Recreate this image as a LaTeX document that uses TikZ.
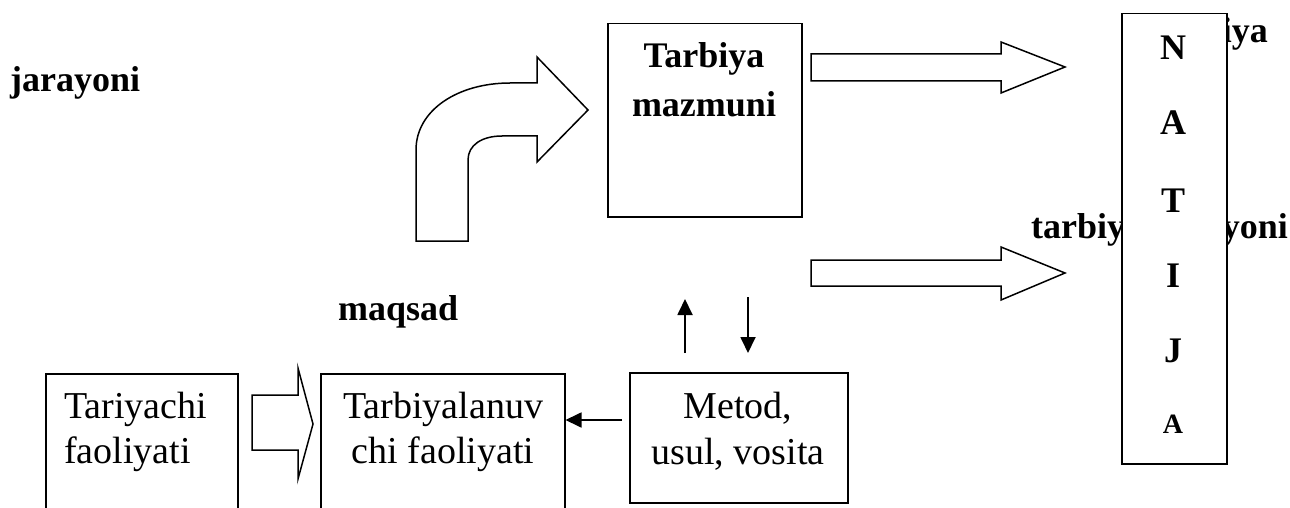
\documentclass[tikz,border=0pt]{standalone}
\usepackage{fontspec}
\setmainfont{Liberation Serif}
\usetikzlibrary{arrows.meta}
\begin{document}
\begin{tikzpicture}[x=1pt,y=-1pt,
  box/.style={draw,line width=1.5pt,fill=white,inner sep=0pt},
  txt/.style={font=\fontsize{38}{38}\selectfont,inner sep=0pt,anchor=base},
  btxt/.style={inner sep=0pt,anchor=base,font=\fontsize{36}{36}\selectfont\bfseries},
  stxt/.style={inner sep=0pt,anchor=base,font=\fontsize{28}{28}\selectfont\bfseries},
  hollow/.style={draw,line width=1.5pt,fill=white,line join=miter},
  thin/.style={line width=1.8pt,-{Triangle[length=16pt,width=15pt]}}]
\clip (0,0) rectangle (1290,508);
\fill[white] (0,0) rectangle (1290,508);

% labels partly hidden behind the NATIJA box
\node[btxt,anchor=base east] (top) at (1268,43) {iya};
\node[btxt,anchor=base west] (tj1) at (1031,238) {tarbiya};
\node[btxt,anchor=base east] (tj2) at (1288,238) {yoni};

% free labels
\node[btxt,anchor=base west] (jar) at (10,92) {jarayoni};
\node[btxt,anchor=base west] (maq) at (338,320) {maqsad};

% boxes
\node[box,anchor=north west,minimum width=194pt,minimum height=193pt] (maz) at (607,23) {};
\node[box,anchor=north west,minimum width=105pt,minimum height=450pt] (nat) at (1121,13) {};
\node[box,anchor=north west,minimum width=192pt,minimum height=160pt] (tar) at (45,373) {};
\node[box,anchor=north west,minimum width=244pt,minimum height=160pt] (tbl) at (320,373) {};
\node[box,anchor=north west,minimum width=218pt,minimum height=130pt] (met) at (629,372) {};

% box texts
\node[btxt] (maz1) at (704,68) {Tarbiya};
\node[btxt] (maz2) at (704,117) {mazmuni};
\node[txt,anchor=base west] (tar1) at (64,418) {Tariyachi};
\node[txt,anchor=base west] (tar2) at (64,463) {faoliyati};
\node[txt] (tbl1) at (443,418) {Tarbiyalanuv};
\node[txt] (tbl2) at (443,463) {chi faoliyati};
\node[txt] (met1) at (738,418) {Metod,};
\node[txt] (met2) at (738,464) {usul, vosita};
\node[btxt] (n1) at (1173,60) {N};
\node[btxt] (n2) at (1173,135) {A};
\node[btxt] (n3) at (1173,212) {T};
\node[btxt] (n4) at (1173,287) {I};
\node[btxt] (n5) at (1173,362) {J};
\node[stxt] (n6) at (1173,433) {A};

% hollow block arrows
\draw[hollow] (416,241) -- (416,150) .. controls (416,110) and (458,83) .. (510,83)
  -- (537,83) -- (537,57) -- (588,110) -- (537,162) -- (537,136) -- (502,136)
  .. controls (482,136) and (468,145) .. (468,160) -- (468,241) -- cycle;
\draw[hollow] (811,54) -- (1001,54) -- (1001,42) -- (1065,67) -- (1001,93) -- (1001,81) -- (811,81) -- cycle;
\draw[hollow] (811,260) -- (1001,260) -- (1001,247) -- (1065,273) -- (1001,300) -- (1001,286) -- (811,286) -- cycle;
\draw[hollow] (252,395) -- (298,395) -- (298,368) -- (313,424) -- (298,479) -- (298,450) -- (252,450) -- cycle;

% thin arrows
\coordinate (upS) at (685,353);
\coordinate (upE) at (685,299);
\coordinate (dnS) at (748,297);
\coordinate (dnE) at (748,353);
\coordinate (ls) at (622,420);
\draw[thin] (upS) -- (upE);
\draw[thin] (dnS) -- (dnE);
\draw[thin] (ls) -- (ls -| tbl.east);
\end{tikzpicture}
\end{document}
